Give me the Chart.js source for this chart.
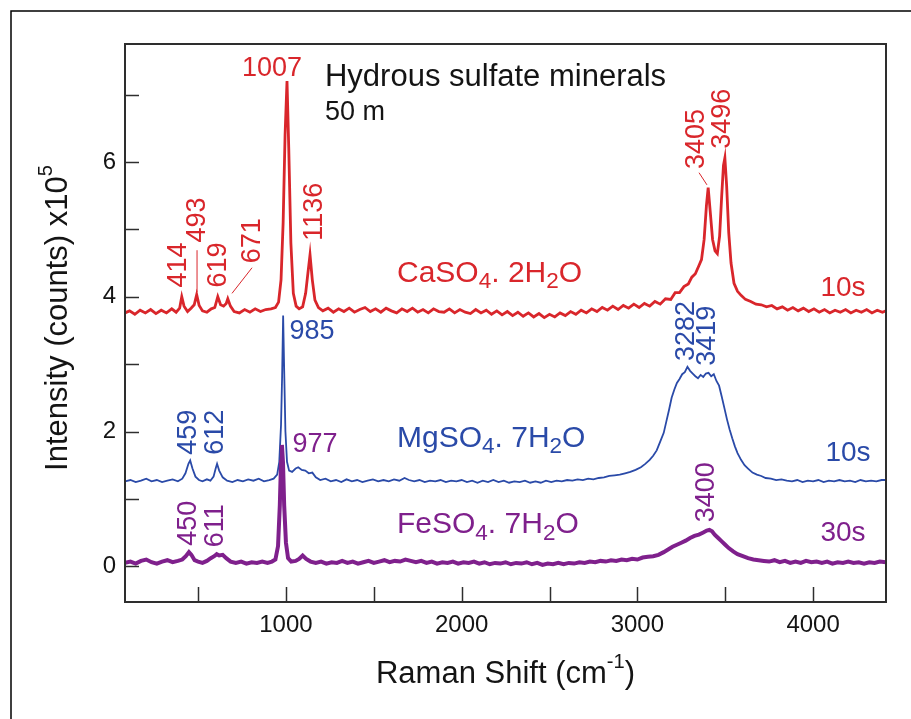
<!DOCTYPE html>
<html>
<head>
<meta charset="utf-8">
<title>Hydrous sulfate minerals - Raman spectra</title>
<script src="https://cdn.jsdelivr.net/npm/chart.js@4.4.1/dist/chart.umd.min.js"></script>
<style>
  html, body { margin: 0; padding: 0; background: #fff; }
  canvas { display: block; }
</style>
</head>
<body>
<canvas id="ramanChart" width="911" height="719"></canvas>
<script>
// Trục và nhãn
const xTickMarks = [500, 1000, 1500, 2000, 2500, 3000, 3500, 4000];
const xTickLabels = [1000, 2000, 3000, 4000];
const yTickMarks = [0, 1, 2, 3, 4, 5, 6, 7];
const yTickLabels = [0, 2, 4, 6];

// CaSO4.2H2O (đỏ)
const caShift = [
  84, 110, 140, 170, 200, 230, 260, 290, 320, 350,
  375, 395, 407, 420, 440, 460, 478, 492, 506, 525,
  550, 575, 595, 612, 628, 645, 660, 669, 684, 705,
  735, 765, 795, 825, 855, 885, 915, 940, 958, 972,
  984, 995, 1006, 1016, 1028, 1042, 1058, 1075, 1095, 1112,
  1125, 1137, 1150, 1165, 1185, 1210, 1240, 1270, 1300, 1330,
  1360, 1390, 1420, 1450, 1480, 1510, 1540, 1570, 1600, 1630,
  1660, 1690, 1720, 1750, 1780, 1810, 1840, 1870, 1900, 1930,
  1960, 1990, 2020, 2050, 2080, 2110, 2140, 2170, 2200, 2230,
  2260, 2290, 2320, 2350, 2380, 2410, 2440, 2470, 2500, 2530,
  2560, 2590, 2620, 2650, 2680, 2710, 2740, 2770, 2800, 2830,
  2860, 2890, 2920, 2950, 2980, 3010, 3040, 3070, 3100, 3130,
  3160, 3190, 3215, 3240, 3265, 3290, 3310, 3330, 3350, 3365,
  3380, 3393, 3403, 3415, 3428, 3442, 3455, 3468, 3480, 3490,
  3498, 3508, 3520, 3533, 3550, 3570, 3590, 3615, 3645, 3675,
  3705, 3735, 3765, 3795, 3825, 3855, 3885, 3915, 3945, 3975,
  4005, 4035, 4065, 4095, 4125, 4155, 4185, 4215, 4245, 4275,
  4305, 4335, 4365, 4395, 4415
];
const caIntensity = [
  3.76, 3.79, 3.74, 3.80, 3.76, 3.81, 3.75, 3.80, 3.76, 3.82,
  3.77, 3.83, 4.00, 3.86, 3.78, 3.83, 3.88, 4.03, 3.87, 3.79,
  3.77, 3.82, 3.84, 4.00, 3.88, 3.86, 3.90, 3.97, 3.86, 3.78,
  3.76, 3.81, 3.77, 3.82, 3.78, 3.81, 3.82, 3.84, 3.92, 4.25,
  5.10, 6.40, 7.20, 6.20, 4.80, 4.05, 3.86, 3.82, 3.85, 4.05,
  4.35, 4.62, 4.25, 3.95, 3.84, 3.79, 3.83, 3.77, 3.82, 3.78,
  3.83, 3.77, 3.81, 3.84, 3.78, 3.82, 3.77, 3.83, 3.79, 3.76,
  3.82, 3.78, 3.83, 3.77, 3.81, 3.76, 3.82, 3.78, 3.77, 3.82,
  3.76, 3.81, 3.77, 3.75, 3.81, 3.76, 3.80, 3.74, 3.79, 3.73,
  3.78, 3.72, 3.77, 3.71, 3.76, 3.70, 3.75, 3.69, 3.74, 3.70,
  3.76, 3.72, 3.78, 3.74, 3.80, 3.76, 3.82, 3.78, 3.84, 3.80,
  3.86, 3.81, 3.87, 3.83, 3.89, 3.84, 3.90, 3.86, 3.93, 3.89,
  3.97, 3.96, 4.06, 4.06, 4.15, 4.19, 4.29, 4.34, 4.46, 4.55,
  4.85, 5.35, 5.62, 5.25, 4.85, 4.68, 4.64, 4.90, 5.50, 5.95,
  6.06, 5.65, 4.95, 4.50, 4.20, 4.08, 4.02, 3.96, 3.93, 3.89,
  3.88, 3.85, 3.87, 3.82, 3.85, 3.80, 3.84, 3.79, 3.83, 3.78,
  3.82, 3.77, 3.81, 3.76, 3.80, 3.77, 3.81, 3.76, 3.80, 3.77,
  3.81, 3.76, 3.80, 3.77, 3.79
];

// MgSO4.7H2O (xanh)
const mgShift = [
  84, 115, 145, 175, 205, 235, 265, 295, 325, 355,
  385, 410, 428, 445, 455, 468, 485, 505, 525, 550,
  570, 588, 600, 608, 620, 640, 665, 695, 725, 755,
  785, 815, 845, 875, 905, 930, 950, 962, 972, 978,
  984, 990, 997, 1006, 1018, 1035, 1055, 1070, 1090, 1110,
  1130, 1150, 1170, 1195, 1225, 1255, 1285, 1315, 1345, 1375,
  1405, 1435, 1465, 1495, 1525, 1555, 1585, 1615, 1645, 1675,
  1700, 1730, 1760, 1790, 1820, 1850, 1880, 1910, 1940, 1970,
  2000, 2030, 2060, 2090, 2120, 2150, 2180, 2210, 2240, 2270,
  2300, 2330, 2360, 2390, 2420, 2450, 2480, 2510, 2540, 2570,
  2600, 2630, 2660, 2690, 2720, 2750, 2780, 2810, 2840, 2870,
  2900, 2930, 2960, 2990, 3020, 3045, 3070, 3090, 3110, 3130,
  3150, 3165, 3180, 3195, 3210, 3225, 3240, 3255, 3270, 3285,
  3300, 3315, 3330, 3345, 3360, 3375, 3390, 3405, 3420, 3435,
  3450, 3465, 3480, 3495, 3510, 3525, 3540, 3555, 3570, 3590,
  3610, 3630, 3655, 3680, 3705, 3730, 3760, 3790, 3820, 3850,
  3880, 3910, 3940, 3970, 4000, 4030, 4060, 4090, 4120, 4150,
  4180, 4210, 4240, 4270, 4300, 4330, 4360, 4390, 4415
];
const mgIntensity = [
  1.26, 1.28, 1.25, 1.27, 1.30, 1.26, 1.28, 1.25, 1.27, 1.29,
  1.26, 1.30, 1.38, 1.52, 1.57, 1.45, 1.33, 1.28, 1.26, 1.29,
  1.27, 1.33, 1.45, 1.52, 1.42, 1.32, 1.27, 1.25, 1.28, 1.26,
  1.29, 1.27, 1.30, 1.26, 1.28, 1.30, 1.36, 1.55, 2.10, 2.80,
  3.72, 2.90, 2.00, 1.55, 1.42, 1.40, 1.45, 1.47, 1.43, 1.42,
  1.38, 1.39, 1.32, 1.28, 1.30, 1.26, 1.28, 1.25, 1.29, 1.26,
  1.28, 1.25, 1.27, 1.29, 1.26, 1.28, 1.26, 1.29, 1.27, 1.31,
  1.28, 1.26, 1.28, 1.25, 1.27, 1.26, 1.28, 1.25, 1.27, 1.26,
  1.28, 1.25, 1.27, 1.24, 1.27, 1.25, 1.28, 1.25, 1.27, 1.24,
  1.26, 1.25, 1.27, 1.24, 1.26, 1.24, 1.27, 1.25, 1.27, 1.26,
  1.28, 1.27, 1.29, 1.28, 1.30, 1.29, 1.31, 1.32, 1.34, 1.35,
  1.36, 1.38, 1.40, 1.43, 1.47, 1.52, 1.58, 1.64, 1.72, 1.85,
  1.98, 2.15, 2.32, 2.50, 2.62, 2.72, 2.78, 2.85, 2.88, 2.96,
  2.90, 2.86, 2.82, 2.79, 2.84, 2.81, 2.86, 2.87, 2.82, 2.85,
  2.75, 2.68, 2.52, 2.35, 2.18, 2.03, 1.90, 1.78, 1.68, 1.58,
  1.50, 1.45, 1.39, 1.36, 1.34, 1.31, 1.30, 1.28, 1.29, 1.27,
  1.26, 1.28, 1.25, 1.27, 1.26, 1.28, 1.25, 1.27, 1.26, 1.28,
  1.26, 1.27, 1.25, 1.28, 1.26, 1.27, 1.26, 1.28, 1.28
];

// FeSO4.7H2O (tím)
const feShift = [
  84, 115, 145, 175, 205, 235, 265, 295, 325, 355,
  385, 410, 430, 448, 462, 480, 500, 525, 550, 572,
  592, 606, 620, 640, 660, 685, 715, 745, 775, 805,
  835, 865, 895, 920, 940, 955, 965, 972, 977, 983,
  990, 1000, 1012, 1030, 1055, 1075, 1095, 1115, 1140, 1170,
  1200, 1230, 1260, 1290, 1320, 1350, 1380, 1410, 1440, 1470,
  1500, 1530, 1560, 1590, 1620, 1650, 1680, 1710, 1740, 1770,
  1800, 1830, 1860, 1890, 1920, 1950, 1980, 2010, 2040, 2070,
  2100, 2130, 2160, 2190, 2220, 2250, 2280, 2310, 2340, 2370,
  2400, 2430, 2460, 2490, 2520, 2550, 2580, 2610, 2640, 2670,
  2700, 2730, 2760, 2790, 2820, 2850, 2880, 2910, 2940, 2970,
  3000, 3030, 3060, 3090, 3120, 3150, 3175, 3200, 3225, 3250,
  3275, 3300, 3325, 3350, 3375, 3395, 3410, 3425, 3440, 3460,
  3480, 3500, 3520, 3545, 3570, 3600, 3630, 3660, 3690, 3720,
  3750, 3780, 3810, 3840, 3870, 3900, 3930, 3960, 3990, 4020,
  4050, 4080, 4110, 4140, 4170, 4200, 4230, 4260, 4290, 4320,
  4350, 4380, 4415
];
const feIntensity = [
  0.05, 0.07, 0.04, 0.08, 0.10, 0.06, 0.04, 0.07, 0.09, 0.06,
  0.08, 0.10, 0.15, 0.21, 0.17, 0.09, 0.07, 0.05, 0.08, 0.12,
  0.15, 0.18, 0.16, 0.17, 0.12, 0.07, 0.05, 0.07, 0.04, 0.06,
  0.05, 0.07, 0.05, 0.07, 0.10, 0.30, 0.90, 1.55, 1.80, 1.55,
  0.90, 0.35, 0.12, 0.07, 0.08, 0.11, 0.16, 0.11, 0.07, 0.05,
  0.07, 0.04, 0.06, 0.05, 0.08, 0.05, 0.07, 0.04, 0.06, 0.08,
  0.05, 0.07, 0.09, 0.06, 0.08, 0.07, 0.10, 0.08, 0.06, 0.08,
  0.05, 0.07, 0.04, 0.06, 0.05, 0.07, 0.04, 0.06, 0.05, 0.07,
  0.04, 0.06, 0.03, 0.05, 0.04, 0.06, 0.03, 0.05, 0.04, 0.06,
  0.03, 0.05, 0.02, 0.04, 0.03, 0.05, 0.03, 0.05, 0.04, 0.06,
  0.05, 0.07, 0.06, 0.08, 0.07, 0.09, 0.08, 0.10, 0.09, 0.11,
  0.10, 0.13, 0.14, 0.15, 0.17, 0.21, 0.25, 0.29, 0.32, 0.35,
  0.38, 0.42, 0.45, 0.47, 0.50, 0.53, 0.54, 0.52, 0.47, 0.42,
  0.37, 0.32, 0.27, 0.22, 0.18, 0.15, 0.12, 0.10, 0.09, 0.08,
  0.07, 0.09, 0.06, 0.08, 0.05, 0.07, 0.05, 0.08, 0.06, 0.07,
  0.05, 0.07, 0.04, 0.06, 0.05, 0.07, 0.05, 0.06, 0.04, 0.06,
  0.05, 0.07, 0.06
];

const RED = '#d9262b';
const BLUE = '#2a4aa8';
const PURPLE = '#7f208c';
const INK = '#141414';
const FONT = '"Liberation Sans", Arial, Helvetica, sans-serif';

// Nhãn chú thích (toạ độ theo dữ liệu)
const notes = [
  { text: '1007', x: 921, y: 7.39, color: RED, size: 27 },
  { text: '414', x: 386, y: 4.47, color: RED, size: 27, rotate: true },
  { text: '493', x: 499, y: 5.14, color: RED, size: 27, rotate: true },
  { text: '619', x: 619, y: 4.47, color: RED, size: 27, rotate: true },
  { text: '671', x: 812, y: 4.83, color: RED, size: 27, rotate: true },
  { text: '1136', x: 1160, y: 5.26, color: RED, size: 27, rotate: true },
  { text: '3405', x: 3334, y: 6.34, color: RED, size: 27, rotate: true },
  { text: '3496', x: 3487, y: 6.64, color: RED, size: 27, rotate: true },
  { text: 'CaSO_{4}. 2H_{2}O', x: 1632, y: 4.34, color: RED, size: 30, align: 'left' },
  { text: '10s', x: 4170, y: 4.13, color: RED, size: 28 },
  { text: '985', x: 1148, y: 3.49, color: BLUE, size: 27 },
  { text: '459', x: 448, y: 1.99, color: BLUE, size: 27, rotate: true },
  { text: '612', x: 602, y: 1.99, color: BLUE, size: 27, rotate: true },
  { text: 'MgSO_{4}. 7H_{2}O', x: 1632, y: 1.90, color: BLUE, size: 30, align: 'left' },
  { text: '3282', x: 3282, y: 3.49, color: BLUE, size: 27, rotate: true },
  { text: '3419', x: 3402, y: 3.42, color: BLUE, size: 27, rotate: true },
  { text: '10s', x: 4199, y: 1.68, color: BLUE, size: 28 },
  { text: '977', x: 1165, y: 1.80, color: PURPLE, size: 27 },
  { text: '450', x: 448, y: 0.64, color: PURPLE, size: 27, rotate: true },
  { text: '611', x: 602, y: 0.60, color: PURPLE, size: 27, rotate: true },
  { text: 'FeSO_{4}. 7H_{2}O', x: 1632, y: 0.61, color: PURPLE, size: 30, align: 'left' },
  { text: '3400', x: 3391, y: 1.10, color: PURPLE, size: 27, rotate: true },
  { text: '30s', x: 4170, y: 0.49, color: PURPLE, size: 28 },
  { text: 'Hydrous sulfate minerals', x: 1222, y: 7.25, color: INK, size: 31, align: 'left' },
  { text: '50 m', x: 1222, y: 6.74, color: INK, size: 27, align: 'left' }
];

// Đường dẫn nhãn
const leaders = [
  { from: [494, 4.69], to: [494, 4.07], color: RED },
  { from: [807, 4.43], to: [693, 4.05], color: RED },
  { from: [3351, 5.84], to: [3396, 5.66], color: RED }
];

function toPoints(xs, ys) {
  return xs.map((x, i) => ({ x: x, y: ys[i] }));
}

// Vẽ chữ có chỉ số trên/dưới
function drawRich(ctx, str, x, y, size, align, color) {
  const parts = [];
  str.replace(/_\{([^}]*)\}|\^\{([^}]*)\}|([^_^]+)/g, function(m, sub, sup, plain) {
    if (sub !== undefined) parts.push({ t: sub, s: 0.75, dy: 0.28 });
    else if (sup !== undefined) parts.push({ t: sup, s: 0.65, dy: -0.38 });
    else parts.push({ t: plain, s: 1, dy: 0 });
    return m;
  });
  let total = 0;
  parts.forEach(p => {
    ctx.font = `${size * p.s}px ${FONT}`;
    p.w = ctx.measureText(p.t).width;
    total += p.w;
  });
  let cx = align === 'left' ? x : x - total / 2;
  ctx.fillStyle = color;
  ctx.textAlign = 'left';
  ctx.textBaseline = 'middle';
  parts.forEach(p => {
    ctx.font = `${size * p.s}px ${FONT}`;
    ctx.fillText(p.t, cx, y + p.dy * size);
    cx += p.w;
  });
}

const framePlugin = {
  id: 'frame',
  beforeDraw(chart) {
    const ctx = chart.ctx;
    ctx.save();
    ctx.fillStyle = '#fff';
    ctx.fillRect(0, 0, chart.width, chart.height);
    ctx.restore();
  },
  afterDatasetsDraw(chart) {
    const ctx = chart.ctx;
    const a = chart.chartArea;
    const xs = chart.scales.x;
    const ys = chart.scales.y;
    ctx.save();

    // Khung biểu đồ
    ctx.strokeStyle = '#2e2e2e';
    ctx.lineWidth = 2;
    ctx.strokeRect(a.left, a.top, a.right - a.left, a.bottom - a.top);

    // Vạch chia hướng vào trong
    ctx.lineWidth = 1.5;
    xTickMarks.forEach(v => {
      const px = Math.round(xs.getPixelForValue(v)) + 0.5;
      ctx.beginPath();
      ctx.moveTo(px, a.bottom);
      ctx.lineTo(px, a.bottom - 15);
      ctx.stroke();
    });
    yTickMarks.forEach(v => {
      const py = Math.round(ys.getPixelForValue(v)) + 0.5;
      ctx.beginPath();
      ctx.moveTo(a.left, py);
      ctx.lineTo(a.left + 14, py);
      ctx.stroke();
    });

    // Đường dẫn
    ctx.lineWidth = 1;
    leaders.forEach(l => {
      ctx.strokeStyle = l.color;
      ctx.beginPath();
      ctx.moveTo(xs.getPixelForValue(l.from[0]), ys.getPixelForValue(l.from[1]));
      ctx.lineTo(xs.getPixelForValue(l.to[0]), ys.getPixelForValue(l.to[1]));
      ctx.stroke();
    });

    // Nhãn
    notes.forEach(n => {
      const px = xs.getPixelForValue(n.x);
      const py = ys.getPixelForValue(n.y);
      if (n.rotate) {
        ctx.save();
        ctx.translate(px, py);
        ctx.rotate(-Math.PI / 2);
        drawRich(ctx, n.text, 0, 0, n.size, 'center', n.color);
        ctx.restore();
      } else {
        drawRich(ctx, n.text, px, py, n.size, n.align || 'center', n.color);
      }
    });
    ctx.restore();
  },
  afterDraw(chart) {
    const ctx = chart.ctx;
    const a = chart.chartArea;
    ctx.save();
    // Tiêu đề trục
    drawRich(ctx, 'Raman Shift (cm^{-1})', (a.left + a.right) / 2, 674, 31, 'center', INK);
    ctx.translate(58, 318);
    ctx.rotate(-Math.PI / 2);
    drawRich(ctx, 'Intensity (counts) x10^{5}', 0, 0, 31, 'center', INK);
    ctx.restore();

    // Viền ngoài
    ctx.save();
    ctx.strokeStyle = '#000';
    ctx.lineWidth = 1.5;
    ctx.beginPath();
    ctx.moveTo(11, chart.height + 5);
    ctx.lineTo(11, 11);
    ctx.lineTo(chart.width + 5, 11);
    ctx.stroke();
    ctx.restore();
  }
};

const tickFont = { family: FONT, size: 24 };
const plainLabel = v => String(v);

new Chart(document.getElementById('ramanChart'), {
  type: 'scatter',
  data: {
    datasets: [
      { label: 'FeSO4.7H2O', data: toPoints(feShift, feIntensity), borderColor: PURPLE, borderWidth: 4, order: 0 },
      { label: 'MgSO4.7H2O', data: toPoints(mgShift, mgIntensity), borderColor: BLUE, borderWidth: 1.8, order: 1 },
      { label: 'CaSO4.2H2O', data: toPoints(caShift, caIntensity), borderColor: RED, borderWidth: 2.8, order: 2 }
    ].map(d => Object.assign(d, { showLine: true, pointRadius: 0, tension: 0, fill: false }))
  },
  options: {
    responsive: false,
    devicePixelRatio: 1,
    animation: false,
    layout: { padding: { left: 0, top: 44, right: 25, bottom: 0 } },
    plugins: {
      legend: { display: false },
      tooltip: { enabled: false }
    },
    scales: {
      x: {
        type: 'linear',
        min: 84,
        max: 4415,
        grid: { display: false, drawTicks: false },
        border: { display: false },
        ticks: { font: tickFont, color: INK, padding: 9, autoSkip: false, maxRotation: 0, callback: plainLabel },
        afterBuildTicks: s => { s.ticks = xTickLabels.map(v => ({ value: v })); },
        afterFit: s => { s.height = 117; }
      },
      y: {
        type: 'linear',
        min: -0.53,
        max: 7.75,
        grid: { display: false, drawTicks: false },
        border: { display: false },
        ticks: { font: tickFont, color: INK, padding: 9, autoSkip: false, callback: plainLabel },
        afterBuildTicks: s => { s.ticks = yTickLabels.map(v => ({ value: v })); },
        afterFit: s => { s.width = 125; }
      }
    }
  },
  plugins: [framePlugin]
});
</script>
</body>
</html>
